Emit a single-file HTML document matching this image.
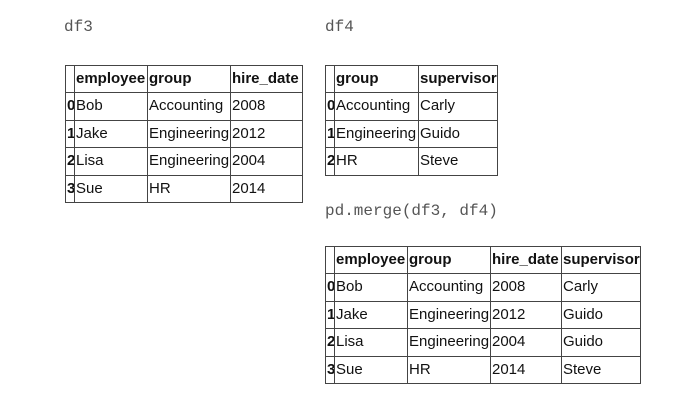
<!DOCTYPE html>
<html><head><meta charset="utf-8">
<style>
body{margin:0;width:686px;height:410px;background:#fff;position:relative;overflow:hidden;font-family:"Liberation Sans",sans-serif;}
.lbl{position:absolute;font-family:"Liberation Mono",monospace;font-size:16px;color:#555;}
.c{position:absolute;box-sizing:border-box;border:1px solid #444;font-size:15px;line-height:26px;padding-left:1px;white-space:nowrap;overflow:visible;color:#111;}
.h{font-weight:bold;}
</style></head><body>
<div class="lbl" style="left:64px;top:18px">df3</div>
<div class="lbl" style="left:325px;top:18px">df4</div>
<div class="lbl" style="left:325px;top:202px">pd.merge(df3, df4)</div>
<div id="t"></div>
<script>
const tables=[
 {name:'df3-table',x:65,y:65,cols:[9,73,83,72],rows:[['','employee','group','hire_date'],['0','Bob','Accounting','2008'],['1','Jake','Engineering','2012'],['2','Lisa','Engineering','2004'],['3','Sue','HR','2014']]},
 {name:'df4-table',x:325,y:65,cols:[9,84,79],rows:[['','group','supervisor'],['0','Accounting','Carly'],['1','Engineering','Guido'],['2','HR','Steve']]},
 {name:'merge-table',x:325,y:246,cols:[9,73,83,71,79],rows:[['','employee','group','hire_date','supervisor'],['0','Bob','Accounting','2008','Carly'],['1','Jake','Engineering','2012','Guido'],['2','Lisa','Engineering','2004','Guido'],['3','Sue','HR','2014','Steve']]}
];
const root=document.getElementById('t');
tables.forEach(t=>{
 const w=document.createElement('div');
 
 
 root.appendChild(w);
 t.rows.forEach((r,ri)=>{
  let x=t.x;
  r.forEach((v,ci)=>{
   const d=document.createElement('div');
   d.className='c'+((ri===0||ci===0)?' h':'');
   d.style.left=x+'px';d.style.top=(t.y+ri*27.4)+'px';
   d.style.width=(t.cols[ci]+1)+'px';d.style.height='28.4px';
   d.textContent=v;
   
   
   w.appendChild(d);
   x+=t.cols[ci];
  });
 });
});
</script>
</body></html>
